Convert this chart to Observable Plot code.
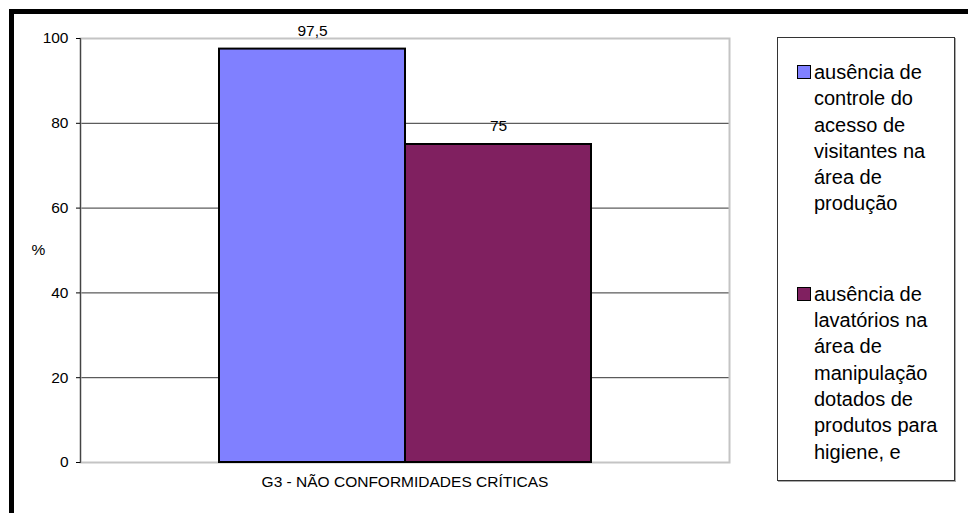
<!DOCTYPE html>
<html>
<head>
<meta charset="utf-8">
<script src="https://cdn.jsdelivr.net/npm/d3@7"></script>
<script src="https://cdn.jsdelivr.net/npm/@observablehq/plot@0.6"></script>
<style>
  html, body { margin: 0; padding: 0; background: #fff; overflow: hidden; }
  #page { position: relative; width: 968px; height: 513px; overflow: hidden;
          font-family: "Liberation Sans", Arial, sans-serif; }
  #chart { position: absolute; left: 0; top: 0; }
  #edge { position: absolute; left: 9px; top: 9px; width: 1200px; height: 800px;
          border-top: 5px solid #000; border-left: 5px solid #000; pointer-events: none; }
  #legend { position: absolute; left: 777px; top: 37px; width: 178px; height: 444px;
            border: 1px solid #333; box-shadow: 1px 1px 0 #aaa; background: #fff; box-sizing: border-box; }
  .entry { position: relative; padding-left: 36px; font-size: 20px; line-height: 26.3px;
           white-space: pre-line; color: #000; }
  .swatch { position: absolute; left: 19px; top: 6px; width: 12px; height: 12px;
            border: 1.5px solid #000; }
</style>
</head>
<body>
<div id="page">
  <div id="chart"></div>
  <div id="legend"></div>
  <div id="edge"></div>
</div>
<script>
// Category, series and values of the chart
const categories = ["G3 - NÃO CONFORMIDADES CRÍTICAS"];
const seriesNames = [
  "ausência de\ncontrole do\nacesso de\nvisitantes na\nárea de\nprodução",
  "ausência de\nlavatórios na\nárea de\nmanipulação\ndotados de\nprodutos para\nhigiene, e"
];
const values = [97.5, 75];
const seriesColors = ["#8080FF", "#802060"];
const yTicks = [0, 20, 40, 60, 80, 100];
const yUnit = "%";

const data = seriesNames.map((s, i) => ({ category: categories[0], series: s, value: values[i] }));
const fmt = v => v.toLocaleString("pt-BR");
const fs = 15.5;

const chart = Plot.plot({
  width: 740,
  height: 513,
  marginLeft: 80,
  marginRight: 11,
  marginTop: 38,
  marginBottom: 51,
  style: { background: "transparent", fontFamily: "'Liberation Sans', Arial, sans-serif", fontSize: fs + "px", color: "#000" },
  fx: { domain: categories, padding: 0, label: null },
  x: { domain: seriesNames, paddingInner: 0, paddingOuter: 0.74, axis: null },
  y: { domain: [0, 100], label: null },
  color: { domain: seriesNames, range: seriesColors },
  marks: [
    Plot.gridY(yTicks.filter(t => t > 0 && t < 100), { stroke: "#000", strokeOpacity: 0.8 }),
    Plot.frame({ stroke: "#c4c4c4", strokeWidth: 2 }),
    Plot.frame({ anchor: "left", stroke: "#444", strokeWidth: 1.2 }),
    Plot.barY(data, { fx: "category", x: "series", y: "value", fill: "series", stroke: "#000", strokeWidth: 2 }),
    Plot.text(data, { fx: "category", x: "series", y: "value", text: d => fmt(d.value), dy: -18, fontSize: fs, fill: "#000" }),
    Plot.axisY({ ticks: yTicks, tickSize: 4, tickPadding: 8, label: null, fontSize: fs }),
    Plot.axisFx({ anchor: "bottom", label: null, tickSize: 0, tickPadding: 13, fontSize: fs }),
    Plot.text([yUnit], { frameAnchor: "left", dx: -49, fontSize: fs, fill: "#000" })
  ]
});
document.getElementById("chart").appendChild(chart);

// Legend built from the same series and colours
const legend = d3.select("#legend");
const gaps = [21, 64];
seriesNames.forEach((name, i) => {
  const e = legend.append("div").attr("class", "entry").style("margin-top", gaps[i] + "px");
  e.append("div").attr("class", "swatch").style("background", seriesColors[i]);
  e.append("span").text(name);
});
</script>
</body>
</html>
